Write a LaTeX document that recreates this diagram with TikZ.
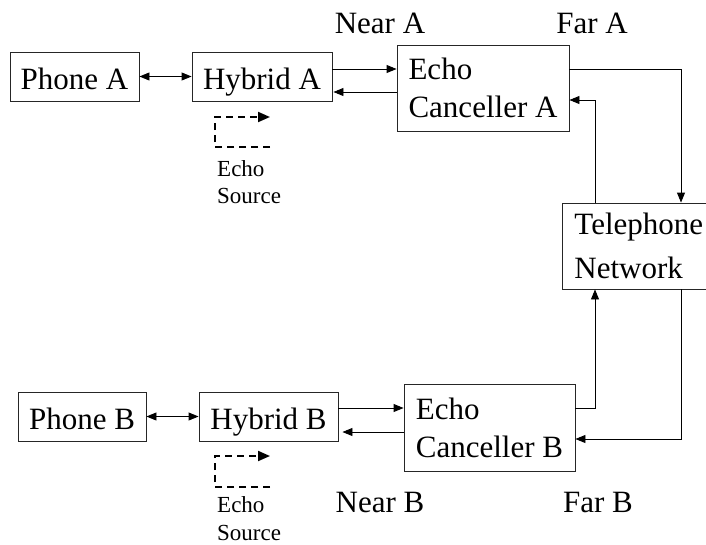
\documentclass[tikz,border=0pt]{standalone}
\usepackage{fontspec}
\setmainfont{Liberation Serif}
\usetikzlibrary{arrows.meta}
\begin{document}
\begin{tikzpicture}[x=1pt,y=-1pt,
  box/.style={draw=black!85,line width=0.9pt,rectangle,inner sep=0pt,
    font=\fontsize{31}{38}\selectfont},
  onebox/.style={box,minimum height=49pt,text height=27pt,text depth=2pt},
  twobox/.style={box,minimum height=86pt,align=left},
  arr/.style={line width=0.9pt,-{Triangle[length=10pt,width=8pt]}},
  darr/.style={line width=0.9pt,{Triangle[length=10pt,width=8pt]}-{Triangle[length=10pt,width=8pt]}},
  echo/.style={line width=2pt,dash pattern=on 7pt off 5pt,-{Triangle[length=12pt,width=10pt]}},
  lab/.style={font=\fontsize{31}{38}\selectfont,inner sep=0pt,anchor=base},
  small/.style={font=\fontsize{23}{27.5}\selectfont,inner sep=0pt,anchor=base west,align=left}]
\useasboundingbox (0,0) rectangle (706,544);

% top row
\node[onebox,minimum width=129pt] (phoneA) at (74.5,76.5) {Phone A};
\node[onebox,minimum width=140pt] (hybA) at (262,76.5) {Hybrid A};
\node[twobox,minimum width=172pt] (ecA) at (483,88) {Echo\\Canceller A};

% network
\node[box,minimum height=86pt,align=left,inner xsep=12pt,anchor=west,
  font=\fontsize{31}{44}\selectfont] (tel) at (562,246) {Telephone\\Network};

% bottom row
\node[onebox,minimum width=128pt] (phoneB) at (82,416.5) {Phone B};
\node[onebox,minimum width=139pt] (hybB) at (268.5,416.5) {Hybrid B};
\node[twobox,minimum width=171pt,minimum height=87pt] (ecB) at (489.5,427.5) {Echo\\Canceller B};

% labels
\node[lab] (nearA) at (380,33) {Near A};
\node[lab] (farA) at (592,33) {Far A};
\node[lab] (nearB) at (380,512) {Near B};
\node[lab] (farB) at (598,512) {Far B};
\node[small] (esA) at (217,203.5) {Echo\\Source};
\node[small] (esB) at (217,540) {Echo\\Source};

% connectors A
\draw[darr] (phoneA) -- (hybA);
\draw[arr] ([yshift=7.5pt]hybA.east) -- ([yshift=19pt]ecA.west);
\draw[arr] ([yshift=-4pt]ecA.west) -- ([yshift=-15.5pt,xshift=1pt]hybA.east);
\draw[arr] ([yshift=19pt]ecA.east) -| ([xshift=119pt]tel.north west);
\draw[arr] ([xshift=33pt]tel.north west) |- ([yshift=-12pt]ecA.east);

% connectors B
\draw[darr] (phoneB) -- (hybB);
\draw[arr] ([yshift=8.5pt]hybB.east) -- ([yshift=19.5pt]ecB.west);
\draw[arr] ([yshift=-4.5pt]ecB.west) -- ([yshift=-15.5pt,xshift=4pt]hybB.east);
\draw[arr] ([yshift=19.5pt]ecB.east) -| ([xshift=33pt]tel.south west);
\draw[arr] ([xshift=119pt]tel.south west) |- ([yshift=-11.5pt]ecB.east);

% echo source paths
\draw[echo] (270,147) -- (215,147) -- (215,117) -- (270,117);
\draw[echo] (270,487) -- (215,487) -- (215,456) -- (270,456);
\end{tikzpicture}
\end{document}
